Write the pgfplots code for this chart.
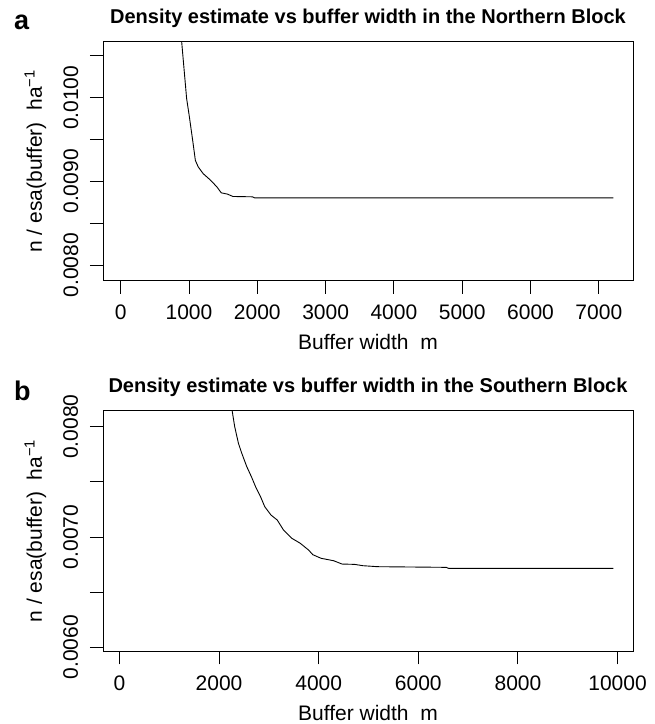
\documentclass[border=0pt]{standalone}
\usepackage{fontspec}
\setmainfont{Liberation Sans}
\usepackage{pgfplots}
\pgfplotsset{compat=1.18}

\newcommand{\fs}[1]{\fontsize{#1bp}{#1bp}\selectfont}

\pgfplotsset{rplot/.style={
    scale only axis, width=530bp, anchor=south west,
    axis line style={line width=1bp},
    tick align=outside, tick pos=left,
    major tick length=13bp,
    tick style={black, line width=0.9bp},
    scaled x ticks=false, scaled y ticks=false,
    xticklabel style={font=\fs{21}, inner sep=0pt, anchor=north, yshift=-11bp},
    yticklabel style={font=\fs{21}, inner sep=0pt, xshift=-12bp, rotate=90, anchor=base},
    xlabel style={font=\fs{21}, at={(axis description cs:0.5,0)}, anchor=base, yshift=-69bp},
    ylabel style={font=\fs{21}, at={(axis description cs:-0.1151,0.5)}, anchor=base},
    title style={font=\fs{20}\bfseries, at={(axis description cs:0.5,1)}, anchor=base, yshift=12.4bp},
    xlabel={Buffer width\ \ m},
    ylabel={n / esa(buffer)\ \ ha\textsuperscript{\char"2212 1}},
  }}

\begin{document}
\begin{tikzpicture}
\useasboundingbox (0,0) rectangle (655bp,724bp);

% panel a - Northern Block
\begin{axis}[rplot,
    at={(103bp,443bp)}, height=239.3bp,
    xmin=-259, xmax=7500, ymin=0.00781, ymax=0.01067,
    xtick={0,1000,2000,3000,4000,5000,6000,7000},
    xticklabels={0,1000,2000,3000,4000,5000,6000,7000},
    ytick={0.008,0.0085,0.009,0.0095,0.01,0.0105},
    yticklabels={0.0080,,0.0090,,0.0100,},
    title={Density estimate vs buffer width in the Northern Block},
  ]
  \addplot[black, line width=0.9bp, no marks] coordinates {
    (882,0.01077) (965,0.009992) (1002,0.009792) (1057,0.009472)
    (1093,0.009252) (1136,0.009172) (1209,0.009092) (1319,0.009012)
    (1411,0.008932) (1472,0.008864) (1564,0.008848) (1643,0.008820)
    (1930,0.008816) (1961,0.008804) (7214,0.008804)
  };
\end{axis}

% panel b - Southern Block
\begin{axis}[rplot,
    at={(103bp,72.7bp)}, height=240.6bp,
    xmin=-330, xmax=10310, ymin=0.005964, ymax=0.008145,
    xtick={0,2000,4000,6000,8000,10000},
    xticklabels={0,2000,4000,6000,8000,10000},
    ytick={0.006,0.0065,0.007,0.0075,0.008},
    yticklabels={0.0060,,0.0070,,0.0080},
    title={Density estimate vs buffer width in the Southern Block},
  ]
  \addplot[black, line width=0.9bp, no marks] coordinates {
    (2250,0.008180) (2314,0.008000) (2389,0.007849) (2456,0.007759)
    (2557,0.007637) (2649,0.007547) (2733,0.007456) (2833,0.007365)
    (2917,0.007275) (3043,0.007199) (3168,0.007154) (3294,0.007063)
    (3462,0.006988) (3630,0.006943) (3797,0.006882) (3881,0.006840)
    (4007,0.006815) (4049,0.006807) (4300,0.006785) (4468,0.006755)
    (4719,0.006752) (4887,0.006740) (5180,0.006731) (6563,0.006725)
    (6605,0.006716) (9916,0.006716)
  };
\end{axis}

\node[anchor=base west, inner sep=0pt, font=\fs{27}\bfseries] at (14bp,694bp) {a};
\node[anchor=base west, inner sep=0pt, font=\fs{27}\bfseries] at (14bp,323bp) {b};
\end{tikzpicture}
\end{document}
